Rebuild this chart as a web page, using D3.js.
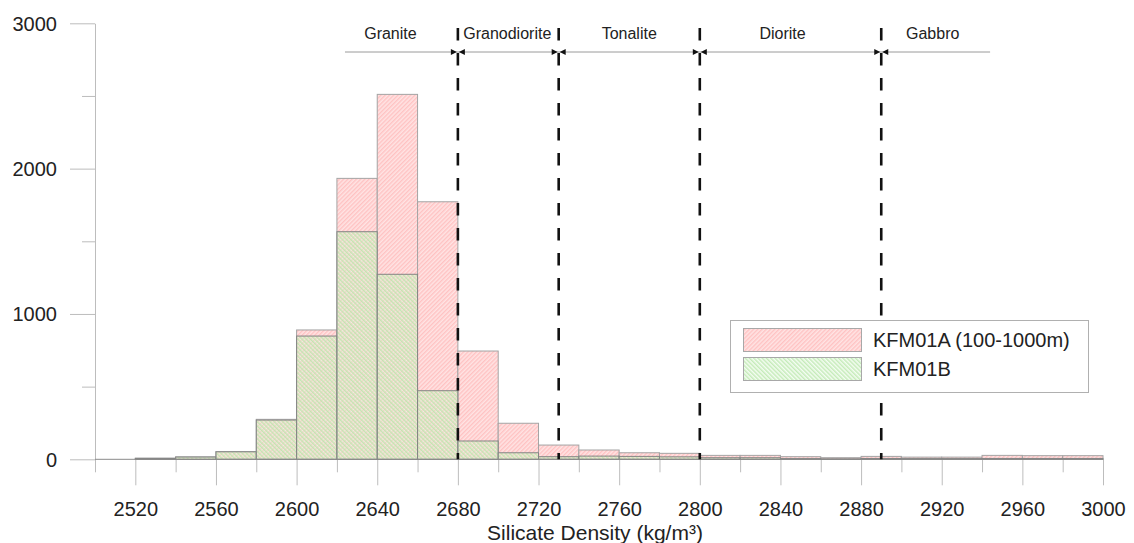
<!DOCTYPE html>
<html>
<head>
<meta charset="utf-8">
<script src="https://cdn.jsdelivr.net/npm/d3@7"></script>
<style>
  html, body { margin: 0; padding: 0; background: #fff; }
  svg { display: block; font-family: "Liberation Sans", Arial, sans-serif; }
</style>
</head>
<body>
<svg id="chart" width="1134" height="543"></svg>
<script>
// Histogram bins (lower edge of each 20 kg/m3 bin)
const binStarts = [2500, 2520, 2540, 2560, 2580, 2600, 2620, 2640, 2660, 2680, 2700, 2720, 2740,
                   2760, 2780, 2800, 2820, 2840, 2860, 2880, 2900, 2920, 2940, 2960, 2980];
const binWidth = 20;

// Sample counts per bin
const kfm01a = [0, 7, 16, 52, 275, 890, 1933, 2511, 1772, 745, 248, 98, 64,
                45, 41, 27, 27, 18, 11, 20, 15, 15, 27, 25, 25];
const kfm01b = [0, 7, 16, 52, 270, 848, 1566, 1273, 472, 126, 45, 18, 22,
                20, 17, 11, 11, 5, 3, 6, 5, 5, 6, 6, 6];

const seriesNames = ["KFM01A (100-1000m)", "KFM01B"];

// Rock classification by density
const rockNames = ["Granite", "Granodiorite", "Tonalite", "Diorite", "Gabbro"];
const rockBounds = [2624, 2680, 2730, 2800, 2890, 2944];

// Axis ticks
const xMajorTicks = [2520, 2560, 2600, 2640, 2680, 2720, 2760, 2800, 2840, 2880, 2920, 2960, 3000];
const xMinorTicks = [2500, 2540, 2580, 2620, 2660, 2700, 2740, 2780, 2820, 2860, 2900, 2940, 2980];
const yMajorTicks = [0, 1000, 2000, 3000];
const yMinorTicks = [500, 1500, 2500];

const svg = d3.select("#chart");

const x = d3.scaleLinear().domain([2500, 3000]).range([95, 1103]);
const y = d3.scaleLinear().domain([0, 3000]).range([459.3, 23.3]);

// Hatch fills
const defs = svg.append("defs");
const pink = defs.append("pattern")
  .attr("id", "hatchPink").attr("patternUnits", "userSpaceOnUse")
  .attr("width", 3).attr("height", 3).attr("patternTransform", "rotate(45)");
pink.append("rect").attr("width", 3).attr("height", 3).attr("fill", "#ffe4e4");
pink.append("rect").attr("width", 1.4).attr("height", 3).attr("fill", "#ffc2c2");

const green = defs.append("pattern")
  .attr("id", "hatchGreen").attr("patternUnits", "userSpaceOnUse")
  .attr("width", 3).attr("height", 3).attr("patternTransform", "rotate(-45)");
green.append("rect").attr("width", 3).attr("height", 3).attr("fill", "rgba(225,248,220,0.35)");
green.append("rect").attr("width", 1.5).attr("height", 3).attr("fill", "rgba(180,228,165,0.75)");

// Y axis
const yAxisMajor = d3.axisLeft(y).tickValues(yMajorTicks).tickSize(25).tickSizeOuter(0)
  .tickPadding(13).tickFormat(d3.format("d"));
const yAxisMinor = d3.axisLeft(y).tickValues(yMinorTicks).tickSize(13).tickSizeOuter(0).tickFormat("");

const gy = svg.append("g").attr("transform", "translate(95,0)").call(yAxisMajor);
const gy2 = svg.append("g").attr("transform", "translate(95,0)").call(yAxisMinor);
gy2.select(".domain").remove();

// X axis ticks (no domain line; bar bases form the baseline)
const xAxisMajor = d3.axisBottom(x).tickValues(xMajorTicks).tickSize(26).tickSizeOuter(0)
  .tickPadding(17).tickFormat(d3.format("d"));
const xAxisMinor = d3.axisBottom(x).tickValues(xMinorTicks).tickSize(13).tickSizeOuter(0).tickFormat("");
const gx = svg.append("g").attr("transform", `translate(0,${y(0)})`).call(xAxisMajor);
const gx2 = svg.append("g").attr("transform", `translate(0,${y(0)})`).call(xAxisMinor);
gx.select(".domain").remove();
gx2.select(".domain").remove();

[gy, gy2, gx, gx2].forEach(g => {
  g.selectAll("line").attr("stroke", "#bdbdbd");
  g.selectAll(".domain").attr("stroke", "#bdbdbd");
  g.selectAll("text").attr("fill", "#222").style("font-size", "20px");
});
gy.selectAll("text").attr("dy", "0.35em");

// Bars
const dataA = binStarts.map((b, i) => ({ x0: b, v: kfm01a[i] }));
const dataB = binStarts.map((b, i) => ({ x0: b, v: kfm01b[i] }));

svg.append("g").selectAll("rect").data(dataA).join("rect")
  .attr("x", d => x(d.x0))
  .attr("width", d => x(d.x0 + binWidth) - x(d.x0))
  .attr("y", d => y(d.v))
  .attr("height", d => y(0) - y(d.v))
  .attr("fill", "url(#hatchPink)")
  .attr("stroke", "#a4a4a4").attr("stroke-width", 1);

svg.append("g").selectAll("rect").data(dataB).join("rect")
  .attr("x", d => x(d.x0))
  .attr("width", d => x(d.x0 + binWidth) - x(d.x0))
  .attr("y", d => y(d.v))
  .attr("height", d => y(0) - y(d.v))
  .attr("fill", "url(#hatchGreen)")
  .attr("stroke", "#858585").attr("stroke-width", 1);

// Baseline
svg.append("line")
  .attr("x1", x(2500)).attr("x2", x(3000))
  .attr("y1", y(0)).attr("y2", y(0))
  .attr("stroke", "#8a8a8a").attr("stroke-width", 1);

// Rock classification band
const bandY = 52;
svg.append("line")
  .attr("x1", x(rockBounds[0])).attr("x2", x(rockBounds[rockBounds.length - 1]))
  .attr("y1", bandY).attr("y2", bandY)
  .attr("stroke", "#9a9a9a").attr("stroke-width", 1);

const inner = rockBounds.slice(1, -1);
svg.append("g").selectAll("line").data(inner).join("line")
  .attr("x1", d => x(d)).attr("x2", d => x(d))
  .attr("y1", 28).attr("y2", y(0))
  .attr("stroke", "#111").attr("stroke-width", 2.6)
  .attr("stroke-dasharray", "12.5,12.5");

// Arrowheads on each side of a boundary
const arrows = svg.append("g").attr("fill", "#111");
inner.forEach(d => {
  const cx = x(d);
  arrows.append("path").attr("d", `M${cx - 7},${bandY - 3} L${cx - 1},${bandY} L${cx - 7},${bandY + 3} Z`);
  arrows.append("path").attr("d", `M${cx + 7},${bandY - 3} L${cx + 1},${bandY} L${cx + 7},${bandY + 3} Z`);
});

// Class names sit near the middle of each class range
const labelShift = [-11, -1, 0, -8, -3];
svg.append("g").selectAll("text").data(rockNames).join("text")
  .attr("x", (d, i) => (x(rockBounds[i]) + x(rockBounds[i + 1])) / 2 + labelShift[i])
  .attr("y", 39)
  .attr("text-anchor", "middle")
  .attr("fill", "#222")
  .style("font-size", "16px")
  .text(d => d);

// Axis title
svg.append("text")
  .attr("x", (x(2500) + x(3000)) / 2 - 4)
  .attr("y", 540)
  .attr("text-anchor", "middle")
  .attr("fill", "#222")
  .style("font-size", "21px")
  .text("Silicate Density (kg/m³)");

// Legend
const legend = svg.append("g");
legend.append("rect")
  .attr("x", 730.5).attr("y", 320.5).attr("width", 358).attr("height", 72)
  .attr("fill", "#fff").attr("stroke", "#b0b0b0").attr("stroke-width", 1);
const fills = ["url(#hatchPink)", "url(#hatchGreen)"];
seriesNames.forEach((name, i) => {
  const ry = 328.5 + i * 29;
  legend.append("rect")
    .attr("x", 743.5).attr("y", ry).attr("width", 118).attr("height", 23)
    .attr("fill", fills[i]).attr("stroke", "#a8a8a8").attr("stroke-width", 1);
  legend.append("text")
    .attr("x", 873).attr("y", ry + 11.5).attr("dy", "0.36em")
    .attr("fill", "#222").style("font-size", "20px")
    .text(name);
});
</script>
</body>
</html>
